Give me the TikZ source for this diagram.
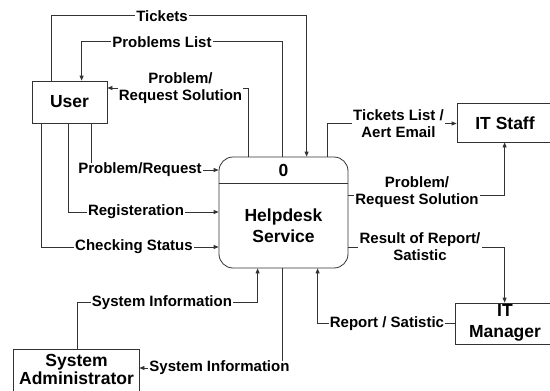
\documentclass[tikz,border=0pt]{standalone}
\usepackage{fontspec}
\setmainfont{Liberation Sans}
\usetikzlibrary{arrows.meta}
\begin{document}
\begin{tikzpicture}[x=1pt,y=-1pt,
  line/.style={draw=black!80,line width=0.8pt},
  flow/.style={line,-{Triangle[length=5pt,width=4pt]}},
  box/.style={draw=black!80,line width=0.8pt,rectangle,inner sep=0pt},
  boxtxt/.style={font=\fontsize{17.5}{20}\selectfont\bfseries,align=center,inner sep=0pt},
  lbl/.style={fill=white,font=\fontsize{15}{17}\selectfont\bfseries,align=center,inner xsep=1.2pt,inner ysep=0.5pt}]
\useasboundingbox (0,0) rectangle (550,391);
\clip (0,0) rectangle (550,391);
% boxes
\node[box,minimum width=75pt,minimum height=42pt,boxtxt] (user) at (69.5,102) {User};
\node[box,rounded corners=14pt,minimum width=129pt,minimum height=111pt] (helpdesk) at (283.5,212.5) {};
\draw[line] ([yshift=-27pt]helpdesk.north west) -- ([yshift=-27pt]helpdesk.north east);
\node[boxtxt] (hnum) at (283.5,170.5) {0};
\node[boxtxt,font=\fontsize{17.5}{21}\selectfont\bfseries] (hname) at (283.5,225.5) {Helpdesk\\Service};
\node[box,minimum width=96pt,minimum height=39pt] (itstaff) at (505,122.5) {};
\node[boxtxt] (itstafftxt) at (505,123) {IT Staff};
\node[box,minimum width=98pt,minimum height=41pt] (itmanager) at (504,323.5) {};
\node[boxtxt,font=\fontsize{17.5}{21}\selectfont\bfseries] (itmanagertxt) at (505,323) {IT\\Manager};
\node[box,minimum width=126pt,minimum height=52pt] (sysadmin) at (76,375) {};
\node[boxtxt,font=\fontsize{17.5}{18.5}\selectfont\bfseries] (sysadmintxt) at (76.5,369.5) {System\\Administrator};
% connectors
\draw[flow] ([xshift=20pt]user.north west) -- ++(0,-65) -| ([xshift=88pt]helpdesk.north west);
\node[lbl] (lTickets) at (162,16) {Tickets};
\draw[flow] ([xshift=64pt]helpdesk.north west) -- ++(0,-115) -| ([xshift=50pt]user.north west);
\node[lbl] (lProblems) at (162,42) {Problems List};
\draw[flow] ([xshift=30pt]helpdesk.north west) |- ([yshift=14pt]user.east);
\node[lbl] (lSolL) at (180.5,88) {Problem/\\Request Solution};
\draw[flow] ([xshift=60pt]user.south west) |- ([yshift=42.5pt]helpdesk.west);
\node[lbl] (lProbReq) at (140,170) {Problem/Request};
\draw[flow] ([xshift=37pt]user.south west) |- ([yshift=0.5pt]helpdesk.west);
\node[lbl] (lReg) at (136,212) {Registeration};
\draw[flow] ([xshift=10pt]user.south west) |- ([yshift=-34.5pt]helpdesk.west);
\node[lbl] (lCheck) at (134,247) {Checking Status};
\draw[flow] ([xshift=109pt]helpdesk.north west) |- ([yshift=-1pt]itstaff.west);
\node[lbl] (lTList) at (398.5,124) {Tickets List /\\Aert Email};
\draw[flow] ([yshift=17.5pt]helpdesk.east) -| ([xshift=48pt]itstaff.south west);
\node[lbl] (lSolR) at (417,192.5) {Problem/\\Request Solution};
\draw[flow] ([yshift=-34.5pt]helpdesk.east) -| ([xshift=50pt]itmanager.north west);
\node[lbl] (lResult) at (420,246.5) {Result of Report/\\Satistic};
\draw[flow] (itmanager.west) -| ([xshift=99pt]helpdesk.south west);
\node[lbl] (lReport) at (387,324) {Report / Satistic};
\draw[flow] ([xshift=1pt]sysadmin.north) -- ++(0,-46) -| ([xshift=39pt]helpdesk.south west);
\node[lbl] (lSysTop) at (162,303) {System Information};
\draw[flow] ([xshift=64pt]helpdesk.south west) |- ([yshift=7pt]sysadmin.east);
\node[lbl] (lSysBot) at (219.5,368) {System Information};
\end{tikzpicture}
\end{document}
